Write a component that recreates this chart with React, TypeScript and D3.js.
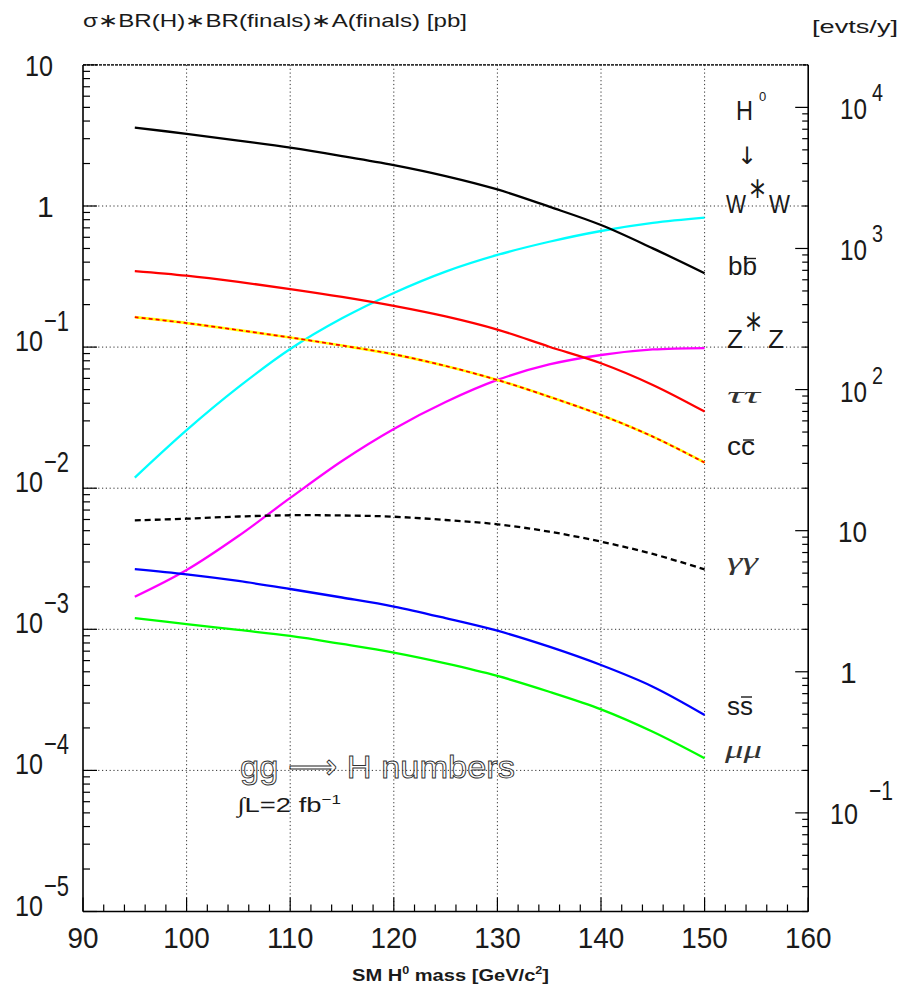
import React from "react";
import * as d3 from "d3";

// ---------- data ----------
const masses = [95, 100, 105, 110, 115, 120, 125, 130, 135, 140, 145, 150];
const bbValues = [3.59, 3.25, 2.91, 2.59, 2.26, 1.95, 1.63, 1.31, 0.989, 0.733, 0.501, 0.334];
const wwValues = [0.0119, 0.0258, 0.052, 0.097, 0.16, 0.242, 0.343, 0.45, 0.558, 0.665, 0.758, 0.826];
const tautauValues = [0.346, 0.321, 0.29, 0.258, 0.227, 0.196, 0.165, 0.133, 0.1006, 0.0768, 0.0539, 0.0349];
const ccValues = [0.163, 0.148, 0.132, 0.117, 0.1026, 0.0889, 0.0735, 0.0585, 0.0445, 0.033, 0.0232, 0.0152];
const zzValues = [0.0017, 0.00263, 0.00458, 0.00853, 0.0156, 0.0263, 0.0408, 0.0585, 0.0753, 0.0879, 0.0962, 0.0985];
const gamgamValues = [0.00592, 0.00608, 0.0063, 0.00643, 0.00641, 0.00628, 0.00595, 0.00555, 0.00492, 0.00418, 0.00342, 0.00266];
const ssValues = [0.00267, 0.00245, 0.0022, 0.00193, 0.00168, 0.00145, 0.0012, 0.000977, 0.000753, 0.000558, 0.000392, 0.000247];
const mumuValues = [0.0012, 0.00109, 0.000989, 0.000897, 0.000787, 0.000683, 0.000573, 0.000467, 0.000361, 0.000271, 0.000188, 0.000122];

const xDomain = [90, 160];
const yDomain = [1e-5, 10];
const lumiPbInv = 2000; // 2 fb^-1 -> events per pb
const xTickLabels = [90, 100, 110, 120, 130, 140, 150, 160];
const leftTickValues = [10, 1, 0.1, 0.01, 0.001, 1e-4, 1e-5];
const rightTickValues = [0.1, 1, 10, 100, 1000, 10000];

const titleText = "σ∗BR(H)∗BR(finals)∗A(finals) [pb]";
const rightTitle = "[evts/y]";

// ---------- layout ----------
const W = 902;
const H = 995;
const L = 83;
const R = 808.2;
const T = 64.9;
const B = 911.5;

const font = "'Liberation Sans', Arial, sans-serif";
const serif = "'Liberation Serif', 'DejaVu Serif', serif";
const ink = "#1a1a1a";

export default function App() {
  const x = d3.scaleLinear().domain(xDomain).range([L, R]);
  const y = d3.scaleLog().domain(yDomain).range([B, T]);
  const yR = d3.scaleLog().domain([yDomain[0] * lumiPbInv, yDomain[1] * lumiPbInv]).range([B, T]);

  const line = d3
    .line<[number, number]>()
    .x((d) => x(d[0]))
    .y((d) => y(d[1]))
    .curve(d3.curveCatmullRom.alpha(0.5));
  const path = (vals: number[]) => line(masses.map((m, i) => [m, vals[i]] as [number, number])) || "";

  const yTicks = y.ticks();
  const yRTicks = yR.ticks();
  const xTicks = d3.range(xDomain[0], xDomain[1] + 0.001, 2);
  const isDecade = (v: number) => Math.abs(Math.log10(v) - Math.round(Math.log10(v))) < 1e-6;

  const grid = { stroke: "#333", strokeWidth: 1, strokeDasharray: "1.2,2.6" };
  const lw = 2.3;

  return (
    <svg
      width={W}
      height={H}
      style={{ position: "absolute", left: 0, top: 0, background: "#fff" }}
      fontFamily={font}
    >
      <rect x={0} y={0} width={W} height={H} fill="#fff" />

      {/* grid */}
      {xTickLabels
        .filter((v) => v > xDomain[0] && v < xDomain[1])
        .map((v) => (
          <line key={"gx" + v} x1={x(v)} x2={x(v)} y1={T} y2={B} {...grid} />
        ))}
      {leftTickValues
        .filter((v) => v > yDomain[0] && v < yDomain[1])
        .map((v) => (
          <line key={"gy" + v} x1={L} x2={R} y1={y(v)} y2={y(v)} {...grid} />
        ))}
      <line x1={L} x2={R} y1={T} y2={T} stroke="#333" strokeWidth={1.6} strokeDasharray="3,1" />

      {/* curves */}
      <g fill="none" strokeLinejoin="round">
        <path d={path(wwValues)} stroke="#00ffff" strokeWidth={lw} />
        <path d={path(zzValues)} stroke="#ff00ff" strokeWidth={lw} />
        <path d={path(tautauValues)} stroke="#ff0000" strokeWidth={lw} />
        <path d={path(ccValues)} stroke="#ffff00" strokeWidth={lw + 0.4} />
        <path d={path(ccValues)} stroke="#ff0000" strokeWidth={lw - 0.6} strokeDasharray="4,3" />
        <path d={path(bbValues)} stroke="#000" strokeWidth={lw} />
        <path d={path(gamgamValues)} stroke="#000" strokeWidth={lw} strokeDasharray="6,4" />
        <path d={path(ssValues)} stroke="#0000ff" strokeWidth={lw} />
        <path d={path(mumuValues)} stroke="#00ff00" strokeWidth={lw} />
      </g>

      {/* axes */}
      <g stroke="#000" strokeWidth={1.6}>
        <line x1={L} x2={L} y1={T} y2={B} />
        <line x1={R} x2={R} y1={T} y2={B} />
        <line x1={L} x2={R} y1={B} y2={B} />
      </g>
      <g stroke="#000" strokeWidth={1.2}>
        {yTicks.map((v, i) => (
          <line key={"ly" + i} x1={L} x2={L + (isDecade(v) ? 14 : 7)} y1={y(v)} y2={y(v)} />
        ))}
        {yRTicks.map((v, i) => (
          <line key={"ry" + i} x1={R} x2={R - (isDecade(v) ? 13 : 6)} y1={yR(v)} y2={yR(v)} />
        ))}
        {xTicks.map((v, i) => (
          <line key={"bx" + i} x1={x(v)} x2={x(v)} y1={B} y2={B - (v % 10 === 0 ? 14 : 7)} />
        ))}
      </g>

      {/* left tick labels */}
      <g fill={ink} fontSize={30}>
        {leftTickValues.map((v) => {
          const e = Math.round(Math.log10(v));
          const gy = y(v);
          if (e === 1)
            return (
              <text key={"ll" + v} x={25} y={gy + 11} textLength={28} lengthAdjust="spacingAndGlyphs">
                10
              </text>
            );
          if (e === 0)
            return (
              <text key={"ll" + v} x={37} y={gy + 11}>
                1
              </text>
            );
          return (
            <g key={"ll" + v}>
              <text x={15} y={gy + 4} textLength={28} lengthAdjust="spacingAndGlyphs">
                10
              </text>
              <text x={44} y={gy - 16} textLength={25} lengthAdjust="spacingAndGlyphs">
                {"−" + -e}
              </text>
            </g>
          );
        })}
      </g>

      {/* right tick labels */}
      <g fill={ink} fontSize={30}>
        {rightTickValues.map((v) => {
          const e = Math.round(Math.log10(v));
          const ty = yR(v);
          if (e === 1)
            return (
              <text key={"rl" + v} x={838} y={ty + 11} textLength={29} lengthAdjust="spacingAndGlyphs">
                10
              </text>
            );
          if (e === 0)
            return (
              <text key={"rl" + v} x={840} y={ty + 11}>
                1
              </text>
            );
          if (e > 1)
            return (
              <g key={"rl" + v}>
                <text x={840} y={ty + 12} textLength={27} lengthAdjust="spacingAndGlyphs">
                  10
                </text>
                <text x={872} y={ty - 6} fontSize={24} textLength={11} lengthAdjust="spacingAndGlyphs">
                  {String(e)}
                </text>
              </g>
            );
          return (
            <g key={"rl" + v}>
              <text x={830} y={ty + 11} textLength={28} lengthAdjust="spacingAndGlyphs">
                10
              </text>
              <text x={869} y={ty - 13} fontSize={28} textLength={24} lengthAdjust="spacingAndGlyphs">
                {"−" + -e}
              </text>
            </g>
          );
        })}
      </g>

      {/* bottom tick labels */}
      <g fill={ink} fontSize={30} textAnchor="middle">
        {xTickLabels.map((v) => (
          <text
            key={"xl" + v}
            x={x(v)}
            y={948}
            textLength={String(v).length * 15.5}
            lengthAdjust="spacingAndGlyphs"
          >
            {v}
          </text>
        ))}
      </g>

      {/* titles */}
      <text x={83} y={27} fontSize={19} fill={ink} textLength={384} lengthAdjust="spacingAndGlyphs">
        {titleText}
      </text>
      <text x={812} y={33} fontSize={19} fill={ink} textLength={86} lengthAdjust="spacingAndGlyphs">
        {rightTitle}
      </text>
      <text
        x={352}
        y={981}
        fontSize={16}
        fontWeight="bold"
        fill={ink}
        textLength={197}
        lengthAdjust="spacingAndGlyphs"
      >
        SM H<tspan dy={-7} fontSize={10}>0</tspan>
        <tspan dy={7}> mass [GeV/c</tspan>
        <tspan dy={-7} fontSize={10}>2</tspan>
        <tspan dy={7}>]</tspan>
      </text>

      {/* channel labels */}
      <g fill={ink}>
        <text x={736} y={120} fontSize={28} textLength={17} lengthAdjust="spacingAndGlyphs">H</text>
        <text x={759} y={101} fontSize={13}>0</text>
        <text x={737} y={164} fontSize={24} fontFamily="'DejaVu Sans', sans-serif">↓</text>

        <text x={726} y={213} fontSize={26} textLength={20} lengthAdjust="spacingAndGlyphs">W</text>
        <text x={750} y={210} fontSize={40} fontFamily="'DejaVu Sans', sans-serif" textLength={15} lengthAdjust="spacingAndGlyphs">*</text>
        <text x={769} y={213} fontSize={26} textLength={21} lengthAdjust="spacingAndGlyphs">W</text>

        <text x={728} y={275} fontSize={25} textLength={29} lengthAdjust="spacingAndGlyphs">bb</text>
        <line x1={744} x2={756} y1={258.5} y2={258.5} stroke={ink} strokeWidth={1.4} />

        <text x={727} y={348} fontSize={26} textLength={16} lengthAdjust="spacingAndGlyphs">Z</text>
        <text x={746} y={343} fontSize={40} fontFamily="'DejaVu Sans', sans-serif" textLength={15} lengthAdjust="spacingAndGlyphs">*</text>
        <text x={768} y={348} fontSize={26} textLength={16} lengthAdjust="spacingAndGlyphs">Z</text>

        <text x={727} y={403} fontSize={24} fontStyle="italic" fontFamily={serif} fill="#333" textLength={33} lengthAdjust="spacingAndGlyphs">ττ</text>

        <text x={727} y={455} fontSize={25} textLength={28} lengthAdjust="spacingAndGlyphs">cc</text>
        <line x1={743} x2={754} y1={440} y2={440} stroke={ink} strokeWidth={1.4} />

        <text x={727} y={570} fontSize={26} fontStyle="italic" fontFamily={serif} fill="#333" textLength={31} lengthAdjust="spacingAndGlyphs">γγ</text>

        <text x={727} y={715} fontSize={25} textLength={26} lengthAdjust="spacingAndGlyphs">ss</text>
        <line x1={741} x2={752} y1={697} y2={697} stroke={ink} strokeWidth={1.4} />

        <text x={725} y={758} fontSize={26} fontStyle="italic" fontFamily={serif} fill="#333" textLength={37} lengthAdjust="spacingAndGlyphs">μμ</text>
      </g>

      {/* annotation */}
      <text
        x={240}
        y={778}
        fontSize={32}
        fill="none"
        stroke="#333"
        strokeWidth={0.9}
        textLength={275}
        lengthAdjust="spacingAndGlyphs"
      >
        gg ⟶ H numbers
      </text>
      <text x={237} y={812} fontSize={21} fill={ink} textLength={104} lengthAdjust="spacingAndGlyphs">
        <tspan fontStyle="italic" fontWeight="bold" fontFamily={serif}>∫</tspan>
        <tspan>L=2 fb</tspan>
        <tspan dy={-8} fontSize={13}>−1</tspan>
      </text>
    </svg>
  );
}
